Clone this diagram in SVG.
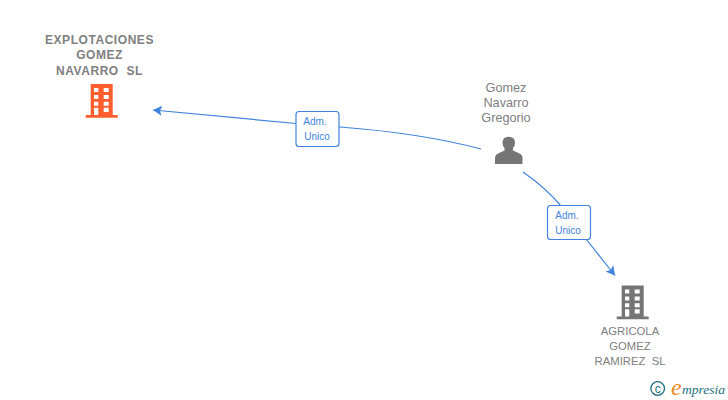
<svg xmlns="http://www.w3.org/2000/svg" width="728" height="400" viewBox="0 0 728 400">
<style>
text{font-family:"Liberation Sans",Arial,sans-serif;white-space:pre}
.t{font-size:11.3px;fill:#808080;text-anchor:middle}
.b{font-size:12px;font-weight:bold;letter-spacing:.55px}
.p{font-size:12.7px}
.e{fill:none;stroke:#3f83de;stroke-width:1.2}
.box{fill:#fff;stroke:#3f83de;stroke-width:1.2}
.l{font-size:10px;fill:#3f83de;text-anchor:middle}
</style>
<defs>
<marker id="a" markerWidth="11" markerHeight="12" refX="9" refY="5.500" orient="auto" markerUnits="userSpaceOnUse"><path d="M9 5.500L0 0.500L2 5.500L0 10.500Z" fill="#3f83de"/></marker>
<path id="bld" fill-rule="evenodd" d="M5 0H27V31H32V33.700H0V31H5ZM8.300 4V8H12.600V4ZM18 4V8H23V4ZM8.300 11V15H12.600V11ZM18 11V15H23V11ZM8.300 17.700V21.700H12.600V17.700ZM18 17.700V21.700H23V17.700ZM8.300 23.700V31H12.600V23.700ZM18 23.700V28H23V23.700Z"/>
</defs>
<g id="connectors">
<path class="e" marker-end="url(#a)" d="M481 149Q420 133 340 127L296 123.500L153 110"/>
<path class="e" marker-end="url(#a)" d="M523 172Q546 188 561 206M586 239L615 275.500"/>
</g>
<g id="n1"><text class="t b"><tspan x="99.500" y="44">EXPLOTACIONES</tspan><tspan x="99.500" y="59">GOMEZ</tspan><tspan x="99.500" y="75">NAVARRO  SL</tspan></text>
<use href="#bld" x="85.700" y="84" fill="#ff5e2e"/></g>
<g id="n2"><text class="t p"><tspan x="506" y="92">Gomez</tspan><tspan x="506" y="107">Navarro</tspan><tspan x="506" y="122">Gregorio</tspan></text>
<path fill="#757575" d="M495 164V158Q495 154.500 499 153L504.500 150.500V148Q502.500 146 502.500 143Q502.500 136.700 508.700 136.700Q515 136.700 515 143Q515 146 513 148V150.500L518.500 153Q522.500 154.500 522.500 158V164Z"/></g>
<g id="n3"><use href="#bld" x="616.700" y="285.500" fill="#757575"/>
<text class="t"><tspan x="630" y="335">AGRICOLA</tspan><tspan x="630" y="350">GOMEZ</tspan><tspan x="630" y="365">RAMIREZ  SL</tspan></text></g>
<g id="l1"><rect class="box" x="296" y="111.500" width="43" height="35" rx="3"/><text class="l"><tspan x="315" y="125">Adm.</tspan><tspan x="317" y="140">Unico</tspan></text></g>
<g id="l2"><rect class="box" x="547.500" y="205.500" width="43" height="34" rx="3"/><text class="l"><tspan x="567" y="219">Adm.</tspan><tspan x="568" y="234">Unico</tspan></text></g>
<g id="logo"><circle cx="657.700" cy="388.500" r="6.800" fill="none" stroke="#1f6f80" stroke-width="1.300"/><text x="657.700" y="392.500" font-size="12" fill="#1f6f80" text-anchor="middle">c</text>
<text x="671" y="395" font-size="24" font-style="italic" fill="#f08a1d" style="font-family:'Liberation Serif',serif">e</text><text x="682" y="394" font-size="13.500" font-style="italic" fill="#1f6f80" style="font-family:'Liberation Serif',serif">mpresia</text></g>
</svg>
